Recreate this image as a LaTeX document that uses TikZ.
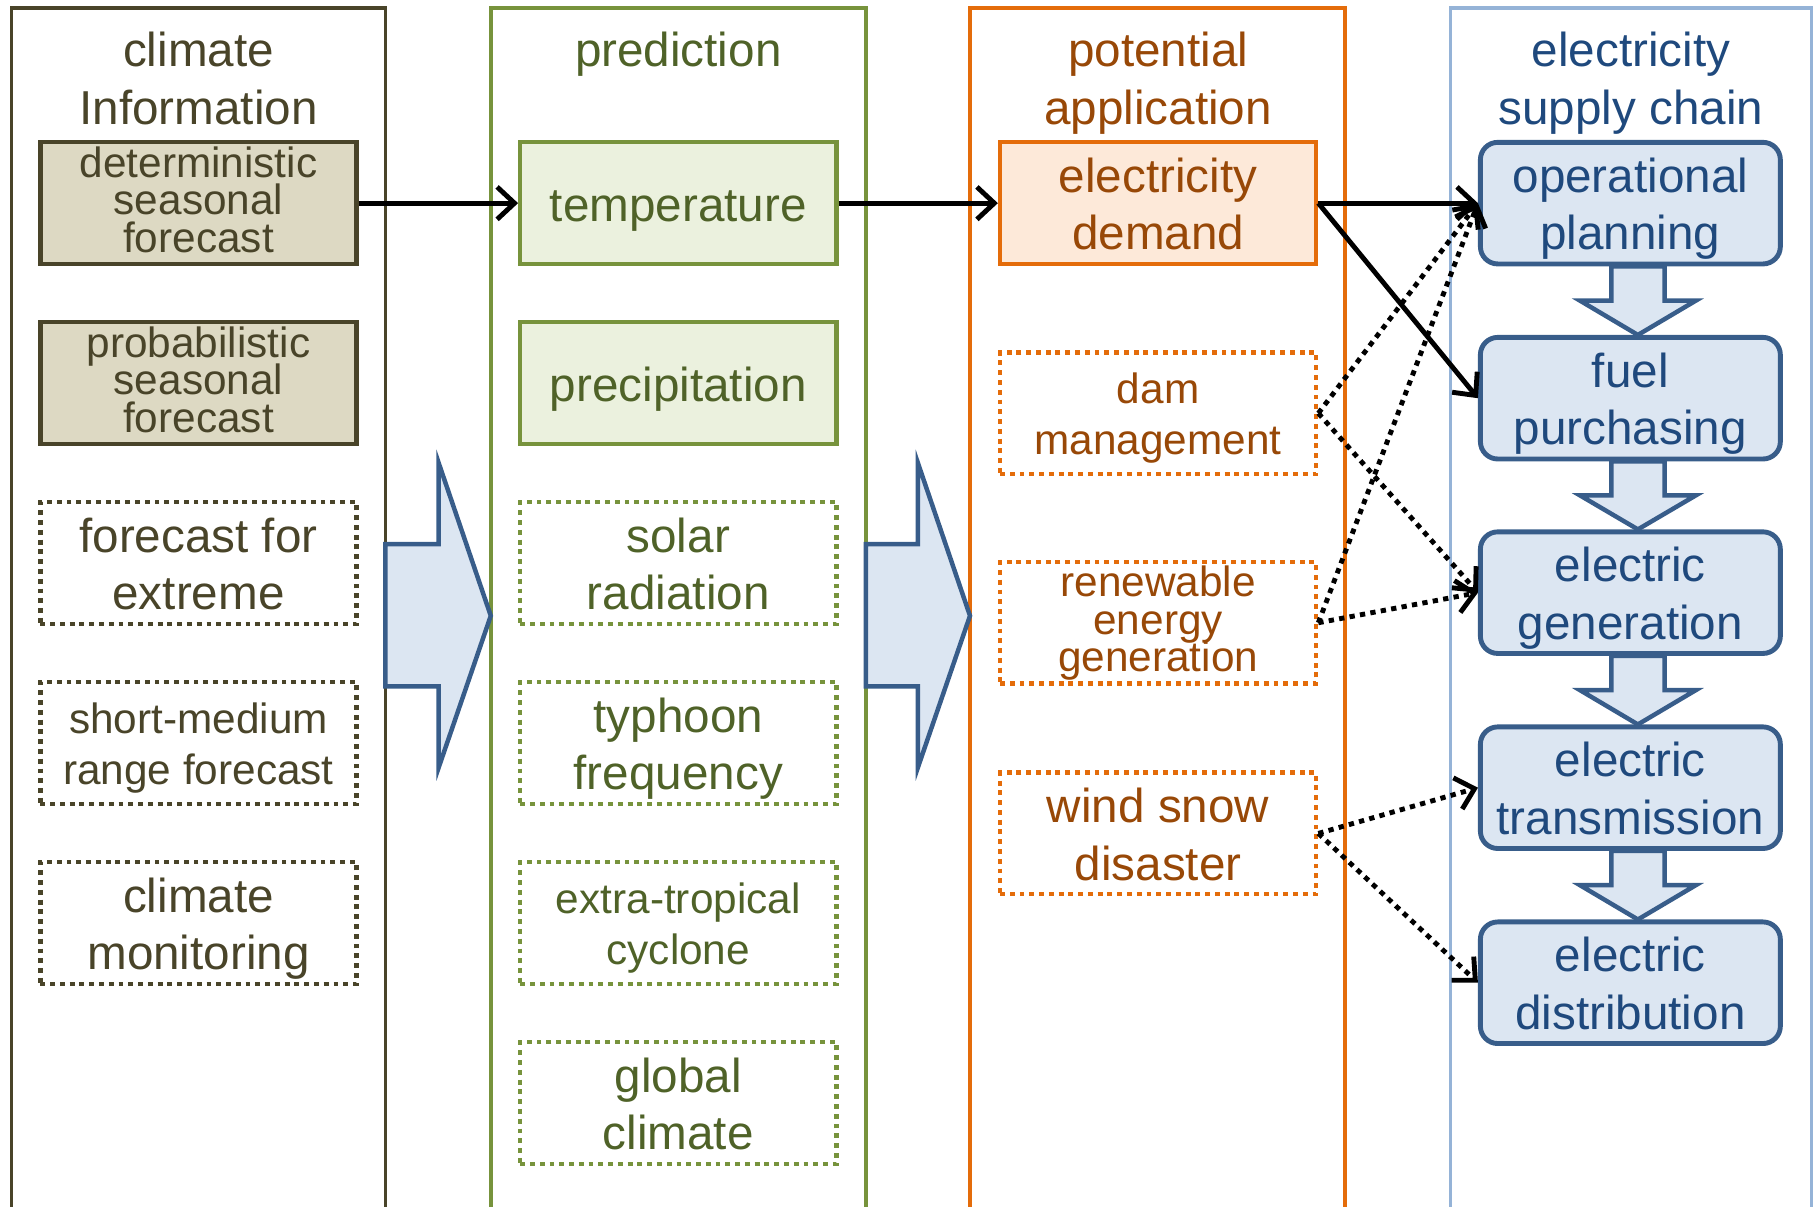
\documentclass[tikz,border=0pt]{standalone}
\usepackage{fontspec}
\setmainfont{Liberation Sans}
\usetikzlibrary{arrows.meta,calc}

\definecolor{climline}{HTML}{494429}
\definecolor{climfill}{HTML}{DDD9C3}
\definecolor{predline}{HTML}{77933C}
\definecolor{predtext}{HTML}{4F6228}
\definecolor{predfill}{HTML}{EBF1DE}
\definecolor{appline}{HTML}{E46C0A}
\definecolor{apptext}{HTML}{984807}
\definecolor{appfill}{HTML}{FDE9D9}
\definecolor{chainline}{HTML}{95B3D7}
\definecolor{chainbox}{HTML}{385D8A}
\definecolor{chainfill}{HTML}{DCE6F2}
\definecolor{chaintext}{HTML}{1F497D}

\newcommand{\bigtxt}{\fontsize{11.7}{14.2}\selectfont\lineskiplimit=-100pt}
\newcommand{\smalltxt}{\fontsize{10.4}{12.4}\selectfont\lineskiplimit=-100pt}
\newcommand{\tighttxt}{\fontsize{10.4}{9.2}\selectfont\lineskiplimit=-100pt}
% first line strut, normal and tight
\newcommand{\hs}{\rule{0pt}{1em}}
\newcommand{\hst}{\rule{0pt}{.8em}}

\begin{document}
\begin{tikzpicture}[x=0.01cm,y=-0.01cm,line width=.9pt,
	txt/.style={align=center,execute at end node={\rule[-.25em]{0pt}{0pt}}},
	cell/.style={txt,minimum width=2.73cm,minimum height=1.05cm,inner sep=0pt,font=\bigtxt,line width=1.05pt},
	clim/.style={cell,draw=climline,text=climline},
	pred/.style={cell,draw=predline,text=predtext},
	app/.style={cell,draw=appline,text=apptext},
	chain/.style={cell,draw=chainbox,fill=chainfill,text=chaintext,line width=1.2pt,rounded corners=.15cm,minimum width=2.59cm},
	dotbox/.style={dash pattern=on 1.2pt off 1.2pt},
	ttl/.style={txt,font=\bigtxt,inner sep=0pt},
	link/.style={-{Straight Barb[length=.15cm,width=.28cm]},line width=1.2pt},
	dotlink/.style={link,dash pattern=on 1.3pt off 1.3pt},
	bigarrow/.style={draw=chainbox,fill=chainfill,line width=1.1pt}]
	\useasboundingbox (0,0) rectangle (1568,1042);

	% columns
	\draw [climline] (10,1050) -- (10,7) -- (333,7) -- (333,1050);
	\draw [predline] (424,1050) -- (424,7) -- (748,7) -- (748,1050);
	\draw [appline] (838,1050) -- (838,7) -- (1162,7) -- (1162,1050);
	\draw [chainline] (1253,1050) -- (1253,7) -- (1565,7) -- (1565,1050);

	\node [ttl,text=climline] (ttlclim) at (171.5,67) {\hs climate\\Information};
	\node [ttl,text=predtext] (ttlpred) at (586,42) {\hs prediction};
	\node [ttl,text=apptext] (ttlapp) at (1000.5,67) {\hs potential\\application};
	\node [ttl,text=chaintext] (ttlchain) at (1409,67) {\hs electricity\\supply chain};

	\draw [bigarrow] (333,470) -- (379,470) -- (379,400) -- (424,532) -- (379,663) -- (379,593) -- (333,593) -- cycle;
	\draw [bigarrow] (748,470) -- (793,470) -- (793,400) -- (838,532) -- (793,663) -- (793,593) -- (748,593) -- cycle;

	\node [clim,fill=climfill,font=\tighttxt] (det) at (171.5,175.5) {\hst deterministic\\seasonal\\forecast};
	\node [clim,fill=climfill,font=\tighttxt] (prob) at (171.5,331) {\hst probabilistic\\seasonal\\forecast};
	\node [clim,dotbox] (extreme) at (171.5,486.5) {\hs forecast for\\extreme};
	\node [clim,dotbox,font=\smalltxt] (shortmed) at (171.5,642) {\hs short-medium\\range forecast};
	\node [clim,dotbox] (monit) at (171.5,797.5) {\hs climate\\monitoring};

	\node [pred,fill=predfill] (temp) at (586,175.5) {\hs temperature};
	\node [pred,fill=predfill] (precip) at (586,331) {\hs precipitation};
	\node [pred,dotbox] (solar) at (586,486.5) {\hs solar\\radiation};
	\node [pred,dotbox] (typhoon) at (586,642) {\hs typhoon\\frequency};
	\node [pred,dotbox,font=\smalltxt] (cyclone) at (586,797.5) {\hs extra-tropical\\cyclone};
	\node [pred,dotbox] (global) at (586,953) {\hs global\\climate};

	\node [app,fill=appfill] (demand) at (1000.5,175.5) {\hs electricity\\demand};
	\node [app,dotbox,font=\smalltxt] (dam) at (1000.5,357) {\hs dam\\management};
	\node [app,dotbox,font=\tighttxt] (renew) at (1000.5,538) {\hst renewable\\energy\\generation};
	\node [app,dotbox] (wind) at (1000.5,720) {\hs wind snow\\disaster};

	\node [chain] (oper) at (1408.5,175.5) {\hs operational\\planning};
	\node [chain] (fuel) at (1408.5,344) {\hs fuel\\purchasing};
	\node [chain] (gener) at (1408.5,512) {\hs electric\\generation};
	\node [chain] (trans) at (1408.5,680.5) {\hs electric\\transmission};
	\node [chain] (distr) at (1408.5,849) {\hs electric\\distribution};

	\foreach \a/\b in {oper/fuel,fuel/gener,gener/trans,trans/distr}{
		\coordinate (t) at ($(\a.south)+(6.5,0)$);
		\coordinate (h) at ($(\b.north)+(6.5,0)$);
		\coordinate (m) at ($(t)!.5!(h)$);
		\draw [bigarrow] ($(t)+(-23,0)$) -- ($(m)+(-23,0)$) -- ($(m)+(-50,0)$) -- (h) -- ($(m)+(50,0)$) -- ($(m)+(23,0)$) -- ($(t)+(23,0)$) -- cycle;
	}

	\draw [link] (det.east) to (temp.west);
	\draw [link] (temp.east) to (demand.west);
	\draw [link] (demand.east) to (oper.west);
	\draw [link] (demand.east) to (fuel.west);
	\draw [dotlink] (dam.east) to (oper.west);
	\draw [dotlink] (dam.east) to (gener.west);
	\draw [dotlink] (renew.east) to (oper.west);
	\draw [dotlink] (renew.east) to (gener.west);
	\draw [dotlink] (wind.east) to (trans.west);
	\draw [dotlink] (wind.east) to (distr.west);
\end{tikzpicture}
\end{document}
